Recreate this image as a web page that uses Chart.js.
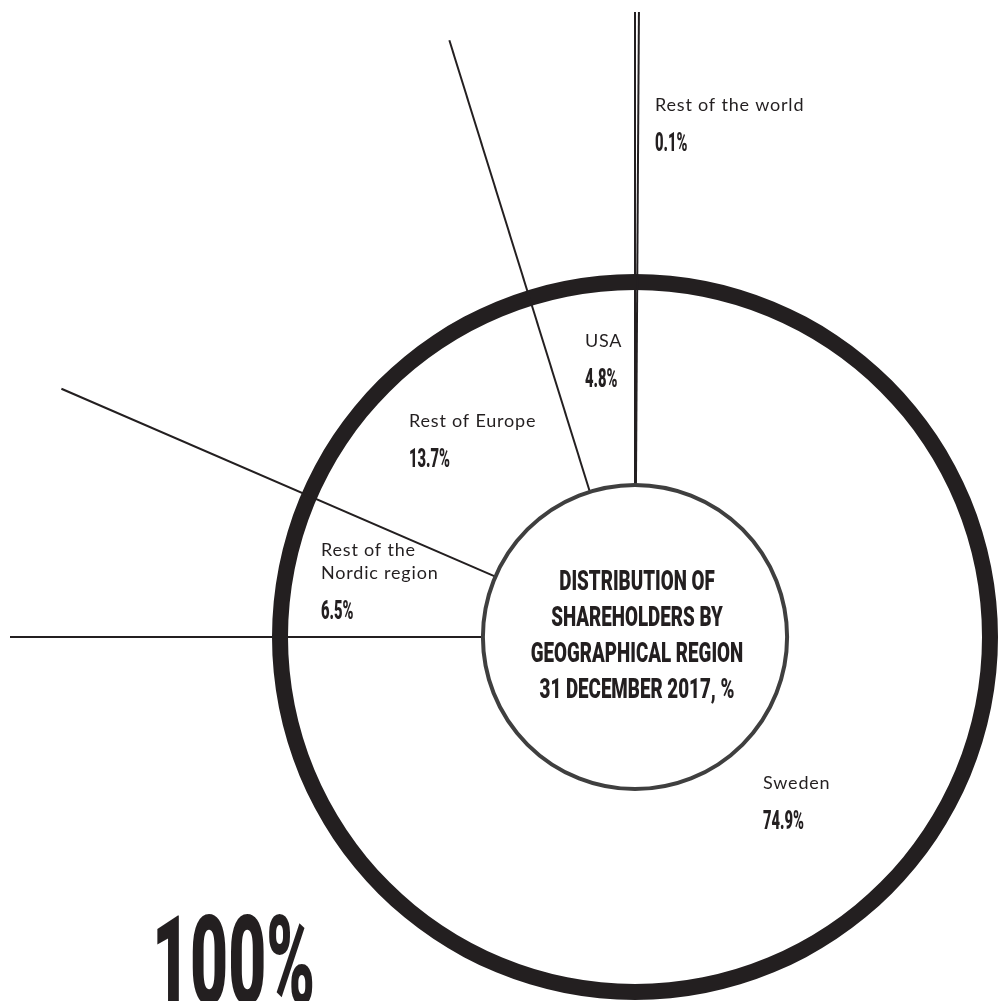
<!DOCTYPE html>
<html>
<head>
<meta charset="utf-8">
<script src="https://cdn.jsdelivr.net/npm/chart.js@4.4.1/dist/chart.umd.min.js"></script>
<style>
  html, body { margin: 0; padding: 0; background: #fff; overflow: hidden; }
  #wrap { position: relative; width: 998px; height: 1001px; }
</style>
</head>
<body>
<div id="wrap"><canvas id="pie-chart"></canvas></div>
<script>
// regions, clockwise from the top
var regionLines = [['Rest of the world'], ['Sweden'], ['Rest of the', 'Nordic region'], ['Rest of Europe'], ['USA']];
var shares = [0.1, 74.9, 6.5, 13.7, 4.8];
var total = [100];
var centreTitle = ['DISTRIBUTION OF', 'SHAREHOLDERS BY', 'GEOGRAPHICAL REGION', '31 DECEMBER 2017, %'];

var ink = '#231f20';
var innerGrey = '#3f3f3f';
var lineReach = 625;
// where each label sits, as an offset from the centre of the pie
var labelOffsets = [[20, -533], [128, 145], [-314, -88], [-226, -217], [-50, -297]];

function squeezedText(ctx, text, x, y, size, squeeze, align) {
    ctx.save();
    ctx.font = '900 ' + size + 'px Roboto';
    ctx.textAlign = align;
    ctx.textBaseline = 'alphabetic';
    ctx.translate(x, y);
    ctx.scale(squeeze, 1);
    ctx.fillText(text, 0, 0);
    ctx.restore();
}

var geoPlugin = {
    id: 'geoLabels',
    afterDatasetsDraw: function (chart) {
        var ctx = chart.ctx;
        var meta = chart.getDatasetMeta(1);
        var cx = meta.data[0].x, cy = meta.data[0].y;
        var rIn = meta.data[0].innerRadius;

        ctx.save();
        // separators, running out past the ring
        ctx.strokeStyle = ink;
        ctx.lineWidth = 2;
        meta.data.forEach(function (arc) {
            var a = arc.startAngle;
            ctx.beginPath();
            ctx.moveTo(cx + Math.cos(a) * rIn, cy + Math.sin(a) * rIn);
            ctx.lineTo(cx + Math.cos(a) * lineReach, cy + Math.sin(a) * lineReach);
            ctx.stroke();
        });

        // centre disc
        ctx.beginPath();
        ctx.arc(cx, cy, rIn, 0, Math.PI * 2);
        ctx.fillStyle = '#fff';
        ctx.fill();
        ctx.lineWidth = 4;
        ctx.strokeStyle = innerGrey;
        ctx.stroke();

        ctx.fillStyle = ink;
        centreTitle.forEach(function (line, i) {
            squeezedText(ctx, line, cx + 2, cy - 47 + i * 36, 28, 0.67, 'center');
        });

        // region names and shares
        regionLines.forEach(function (lines, i) {
            var x = cx + labelOffsets[i][0];
            var y = cy + labelOffsets[i][1];
            ctx.font = '18px Lato';
            ctx.letterSpacing = '0.8px';
            ctx.textAlign = 'left';
            ctx.textBaseline = 'alphabetic';
            lines.forEach(function (line, j) {
                ctx.fillText(line, x, y + 6.5 + j * 23);
            });
            ctx.letterSpacing = '0px';
            var vy = y + (lines.length - 1) * 23 + 38 + 9;
            squeezedText(ctx, shares[i].toFixed(1) + '%', x, vy, 25, 0.59, 'left');
        });

        // grand total
        squeezedText(ctx, total[0] + '%', 152, chart.height + 3, 124, 0.53, 'left');
        ctx.restore();
    }
};

var ctx = document.getElementById('pie-chart').getContext('2d');
var myChart = new Chart(ctx, {
    type: 'doughnut',
    data: {
        labels: regionLines.map(function (l) { return l.join(' '); }),
        datasets: [{
            label: 'total',
            data: total,
            backgroundColor: ink,
            borderWidth: 0,
            weight: 16
        }, {
            label: 'shareholders',
            data: shares,
            backgroundColor: '#ffffff',
            borderWidth: 0,
            weight: 195
        }]
    },
    options: {
        responsive: true,
        maintainAspectRatio: false,
        animation: false,
        events: [],
        cutout: '41.9%',
        hoverOffset: 0,
        layout: { padding: { left: 272, right: 0, top: 274, bottom: 1 } },
        plugins: {
            legend: { display: false },
            tooltip: { enabled: false }
        }
    },
    plugins: [geoPlugin]
});
</script>
</body>
</html>
